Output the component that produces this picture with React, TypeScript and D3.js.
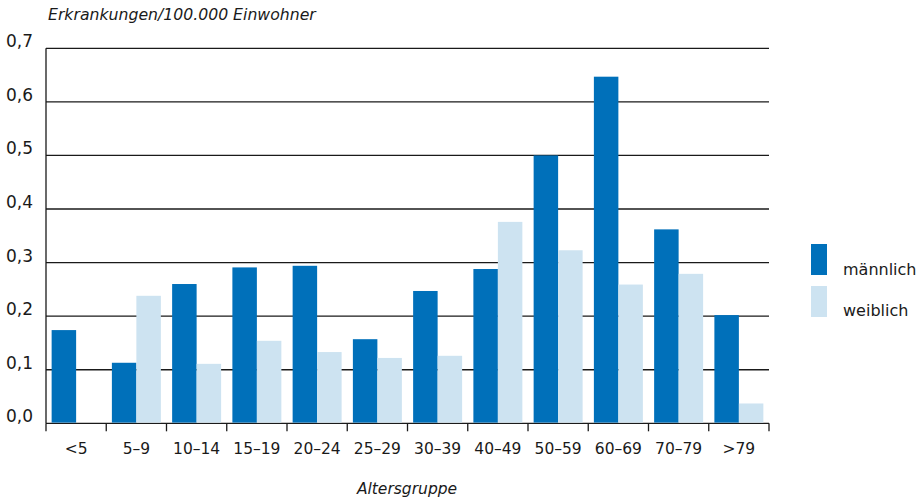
import React from "react";
import * as d3 from "d3";

const categories = ["<5", "5–9", "10–14", "15–19", "20–24", "25–29", "30–39", "40–49", "50–59", "60–69", "70–79", ">79"];
const maleValues = [0.174, 0.113, 0.26, 0.291, 0.294, 0.157, 0.247, 0.288, 0.5, 0.647, 0.362, 0.202];
const femaleValues = [0, 0.238, 0.111, 0.154, 0.133, 0.122, 0.126, 0.376, 0.323, 0.259, 0.279, 0.037];
const seriesNames = ["männlich", "weiblich"];
const seriesColors = ["#0070ba", "#cde3f1"];
const yTicks = [0, 0.1, 0.2, 0.3, 0.4, 0.5, 0.6, 0.7];
const yTitle = "Erkrankungen/100.000 Einwohner";
const xTitle = "Altersgruppe";

const W = 921;
const H = 501;
const left = 46;
const right = 769;
const top = 48.3;
const bottom = 423.3;
const font = "'DejaVu Sans', sans-serif";
const ink = "#1a1a1a";

export default function App() {
  const x = d3.scaleBand<string>().domain(categories).range([left, right]).padding(0);
  const inner = d3.scaleBand<string>().domain(seriesNames).range([0, x.bandwidth()]).paddingInner(0).paddingOuter(0.23);
  const y = d3.scaleLinear().domain([0, 0.7]).range([bottom, top]);
  const series = [maleValues, femaleValues];
  const fmt = (v: number) => d3.format(".1f")(v).replace(".", ",");
  const tickXs = categories.map((c) => x(c) as number).concat([right]);

  return (
    <svg width={W} height={H} style={{ position: "absolute", left: 0, top: 0, background: "#fff" }} fontFamily={font}>
      <text x={48} y={20} fontSize={15.7} fontStyle="italic" fill={ink}>{yTitle}</text>
      {yTicks.map((t) => (
        <g key={t}>
          <line x1={left} x2={right} y1={y(t)} y2={y(t)} stroke={ink} strokeWidth={1.3} />
          <text x={33} y={y(t) - 1} fontSize={17} textAnchor="end" fill={ink}>{fmt(t)}</text>
        </g>
      ))}
      <line x1={left} x2={left} y1={top} y2={bottom} stroke={ink} strokeWidth={1.3} />
      {series.map((vals, si) =>
        categories.map((c, i) =>
          vals[i] > 0 ? (
            <rect
              key={`${si}-${i}`}
              x={(x(c) as number) + (inner(seriesNames[si]) as number)}
              y={y(vals[i])}
              width={inner.bandwidth()}
              height={y(0) - y(vals[i]) - 0.7}
              fill={seriesColors[si]}
            />
          ) : null
        )
      )}
      {tickXs.map((tx, i) => (
        <line key={i} x1={tx} x2={tx} y1={bottom} y2={bottom + 8} stroke={ink} strokeWidth={1.3} />
      ))}
      {categories.map((c) => (
        <text key={c} x={(x(c) as number) + x.bandwidth() / 2} y={454} fontSize={15.5} textAnchor="middle" fill={ink}>{c}</text>
      ))}
      <text x={407} y={494} fontSize={15.5} fontStyle="italic" textAnchor="middle" fill={ink}>{xTitle}</text>
      {seriesNames.map((s, i) => (
        <g key={s}>
          <rect x={811} y={244 + i * 42} width={16} height={31} fill={seriesColors[i]} />
          <text x={843} y={275 + i * 41} fontSize={16} fill={ink}>{s}</text>
        </g>
      ))}
    </svg>
  );
}
